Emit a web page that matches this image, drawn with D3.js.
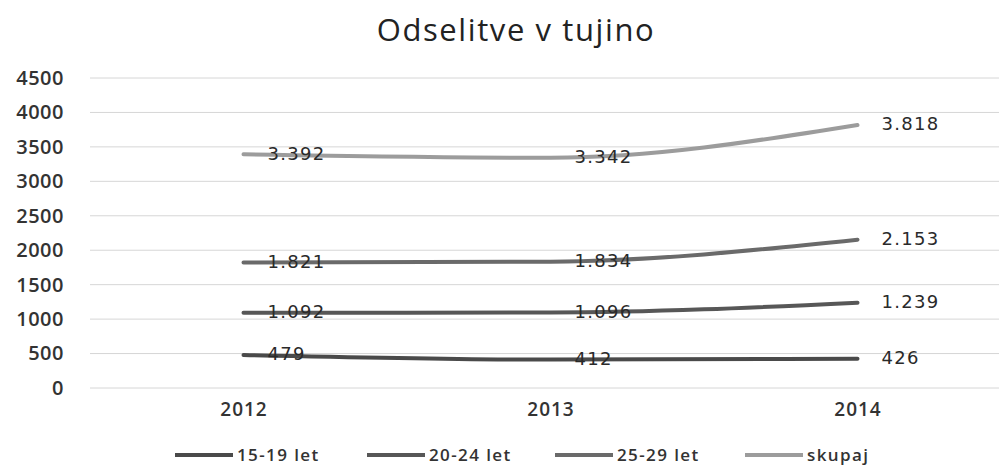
<!DOCTYPE html>
<html>
<head>
<meta charset="utf-8">
<script src="https://cdn.jsdelivr.net/npm/d3@7"></script>
<style>
  body { margin: 0; background: #fff; }
  svg { display: block; }
</style>
</head>
<body>
<svg id="chart" width="999" height="467"></svg>
<script>
// data
var years = ["2012", "2013", "2014"];
var seriesNames = ["15-19 let", "20-24 let", "25-29 let", "skupaj"];
var v1519 = [479, 412, 426];
var v2024 = [1092, 1096, 1239];
var v2529 = [1821, 1834, 2153];
var vSkupaj = [3392, 3342, 3818];
var yTicks = [0, 500, 1000, 1500, 2000, 2500, 3000, 3500, 4000, 4500];

var colors = ["#4a4a4a", "#575757", "#6a6a6a", "#9c9c9c"];
var allValues = [v1519, v2024, v2529, vSkupaj];

var svg = d3.select("#chart");

var x = d3.scalePoint().domain(years).range([90, 1011]).padding(0.5);
var y = d3.scaleLinear().domain([0, 4500]).range([388, 78]);

// title
svg.append("text")
  .attr("x", 516)
  .attr("y", 41)
  .attr("text-anchor", "middle")
  .style("font-family", "Open Sans")
  .style("font-size", "31px")
  .style("letter-spacing", "1.6px")
  .style("fill", "#222")
  .text("Odselitve v tujino");

// grid
svg.append("g")
  .selectAll("line")
  .data(yTicks)
  .enter()
  .append("line")
  .attr("x1", 90)
  .attr("x2", 999)
  .attr("y1", (d) => y(d))
  .attr("y2", (d) => y(d))
  .attr("stroke", "#d6d6d6")
  .attr("stroke-width", 1);

// y axis labels
var yAxis = d3.axisLeft(y).tickValues(yTicks).tickFormat(d3.format("d")).tickSize(0).tickPadding(0);
var yg = svg.append("g").attr("transform", "translate(64,0)").call(yAxis);
yg.select(".domain").remove();
yg.selectAll("text")
  .style("font-family", "Open Sans")
  .style("font-weight", "600")
  .style("font-size", "20px")
  .style("letter-spacing", "0.5px")
  .style("fill", "#333");

// x axis labels
var xAxis = d3.axisBottom(x).tickSize(0).tickPadding(0);
var xg = svg.append("g").attr("transform", "translate(0,402)").call(xAxis);
xg.select(".domain").remove();
xg.selectAll("text")
  .style("font-family", "Open Sans")
  .style("font-weight", "600")
  .style("font-size", "19px")
  .style("letter-spacing", "1px")
  .style("fill", "#333");

// lines
var line = d3.line()
  .x((d, i) => x(years[i]))
  .y((d) => y(d))
  .curve(d3.curveMonotoneX);

allValues.forEach((vals, s) => {
  svg.append("path")
    .datum(vals)
    .attr("d", line)
    .attr("fill", "none")
    .attr("stroke", colors[s])
    .attr("stroke-width", 4)
    .attr("stroke-linecap", "round");
});

// data labels
var fmt = (v) => v >= 1000 ? Math.floor(v / 1000) + "." + String(v % 1000).padStart(3, "0") : String(v);
allValues.forEach((vals) => {
  svg.append("g")
    .selectAll("text")
    .data(vals)
    .enter()
    .append("text")
    .attr("x", (d, i) => x(years[i]) + 24)
    .attr("y", (d) => y(d) - 1)
    .attr("dy", "0.35em")
    .style("font-family", "DejaVu Sans")
    .style("font-size", "18px")
    .style("letter-spacing", "1.3px")
    .style("fill", "#2a2a2a")
    .text((d) => fmt(d));
});

// legend
var legendX = [175, 367, 555, 745];
var lg = svg.append("g")
  .selectAll("g")
  .data(seriesNames)
  .enter()
  .append("g")
  .attr("transform", (d, i) => "translate(" + legendX[i] + ",455)");
lg.append("line")
  .attr("x1", 0)
  .attr("x2", 58)
  .attr("stroke", (d, i) => colors[i])
  .attr("stroke-width", 4);
lg.append("text")
  .attr("x", 62)
  .attr("dy", "0.35em")
  .style("font-family", "Open Sans")
  .style("font-weight", "600")
  .style("font-size", "17px")
  .style("letter-spacing", "1.4px")
  .style("fill", "#333")
  .text((d) => d);
</script>
</body>
</html>
